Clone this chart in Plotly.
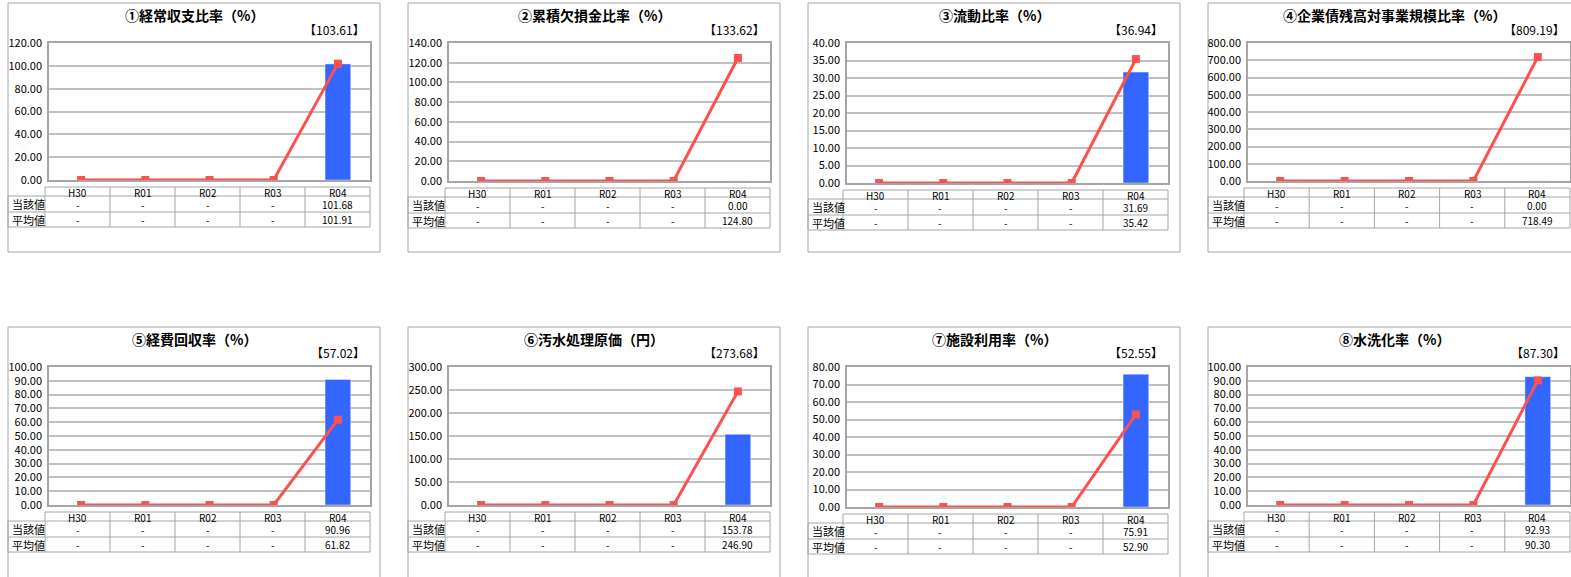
import plotly.graph_objects as go

W, H = 1571, 577

years = ["H30", "R01", "R02", "R03", "R04"]
titles = ["①経常収支比率（%）", "②累積欠損金比率（%）", "③流動比率（%）",
          "④企業債残高対事業規模比率（%）", "⑤経費回収率（%）", "⑥汚水処理原価（円）",
          "⑦施設利用率（%）", "⑧水洗化率（%）"]
brackets = ["【103.61】", "【133.62】", "【36.94】", "【809.19】",
            "【57.02】", "【273.68】", "【52.55】", "【87.30】"]
current = [
    [None, None, None, None, 101.68],
    [None, None, None, None, 0.00],
    [None, None, None, None, 31.69],
    [None, None, None, None, 0.00],
    [None, None, None, None, 90.96],
    [None, None, None, None, 153.78],
    [None, None, None, None, 75.91],
    [None, None, None, None, 92.93],
]
average = [
    [None, None, None, None, 101.91],
    [None, None, None, None, 124.80],
    [None, None, None, None, 35.42],
    [None, None, None, None, 718.49],
    [None, None, None, None, 61.82],
    [None, None, None, None, 246.90],
    [None, None, None, None, 52.90],
    [None, None, None, None, 90.30],
]
y_max = [120, 140, 40, 800, 100, 300, 80, 100]
y_step = [20, 20, 5, 100, 10, 50, 10, 10]
row_labels = ["当該値", "平均値"]

# layout geometry (pixels)
box_left = [8, 408, 808, 1208, 8, 408, 808, 1208]
box_top = [3, 3, 3, 3, 327, 327, 327, 327]
box_bottom = [252, 252, 252, 252, 600, 600, 600, 600]
plot_x = [(49, 370), (449, 770), (847, 1168), (1248, 1570),
          (49, 370), (449, 770), (847, 1168), (1248, 1570)]
plot_y = [(43, 180), (43, 181), (43, 183), (43, 181),
          (367, 505), (367, 505), (367, 507), (367, 505)]

BAR = "#3366FF"
LINE = "#FF5050"
GRID = "#c0c0c0"
BORDER = "#a6a6a6"
FONT = "Noto Sans CJK JP"

def px(x):
    return x / W

def py(y):
    return 1 - y / H

fig = go.Figure()
shapes = []
annotations = []

for i in range(8):
    ax = "" if i == 0 else str(i + 1)
    x0, x1 = plot_x[i]
    y0, y1 = plot_y[i]
    bl = box_left[i]
    # bar (当該値)
    fig.add_trace(go.Bar(x=years, y=current[i], marker_color=BAR, width=0.4,
                         xaxis="x" + ax, yaxis="y" + ax, showlegend=False))
    # line (平均値)
    line_vals = [v if v is not None else 0 for v in average[i]]
    fig.add_trace(go.Scatter(x=years, y=line_vals, mode="lines+markers",
                             line=dict(color=LINE, width=3),
                             marker=dict(symbol="square", size=8, color=LINE),
                             xaxis="x" + ax, yaxis="y" + ax, showlegend=False))
    fig.update_layout(**{
        "xaxis" + ax: dict(domain=[px(x0), px(x1)], anchor="y" + ax, type="category",
                           range=[-0.5, 4.5], showticklabels=False, showgrid=False,
                           zeroline=False, showline=True, mirror=True, automargin=False,
                           linecolor=BORDER, linewidth=1.5, ticks=""),
        "yaxis" + ax: dict(domain=[py(y1), py(y0)], anchor="x" + ax,
                           range=[0, y_max[i]], dtick=y_step[i], tick0=0,
                           tickformat=".2f", showgrid=True, gridcolor=GRID,
                           gridwidth=1.5, zeroline=False, showline=True, mirror=True,
                           linecolor=BORDER, linewidth=1.5, ticks="", automargin=False,
                           ticklabelstandoff=3,
                           tickfont=dict(family=FONT, size=11, color="#000000")),
    })
    # outer box
    shapes.append(dict(type="rect", xref="paper", yref="paper",
                       x0=px(bl), x1=px(bl + 372), y0=py(box_bottom[i]), y1=py(box_top[i]),
                       line=dict(color=BORDER, width=1), fillcolor="rgba(0,0,0,0)",
                       layer="below"))
    # title
    cx = bl + 186
    annotations.append(dict(text="<b>" + titles[i] + "</b>", x=px(cx), y=py(box_top[i] + 12),
                            xref="paper", yref="paper", showarrow=False,
                            xanchor="center", yanchor="middle",
                            font=dict(family=FONT, size=14, color="#000000")))
    annotations.append(dict(text=brackets[i], x=px(x1 - 3), y=py(box_top[i] + 26),
                            xref="paper", yref="paper", showarrow=False,
                            xanchor="right", yanchor="middle",
                            font=dict(family=FONT, size=12, color="#000000")))
    # data table
    t0 = y1 + 7
    rows = [t0, t0 + 9, t0 + 25, t0 + 40]
    cl = x0 - 4
    cw = (x1 - cl) / 5
    cols = [cl + k * cw for k in range(6)]
    # horizontal lines
    shapes.append(dict(type="line", xref="paper", yref="paper", x0=px(cl), x1=px(x1),
                       y0=py(rows[0]), y1=py(rows[0]), line=dict(color=BORDER, width=1)))
    for r in rows[1:]:
        shapes.append(dict(type="line", xref="paper", yref="paper", x0=px(bl), x1=px(x1),
                           y0=py(r), y1=py(r), line=dict(color=BORDER, width=1)))
    # vertical lines
    for c in cols:
        shapes.append(dict(type="line", xref="paper", yref="paper", x0=px(c), x1=px(c),
                           y0=py(rows[0]), y1=py(rows[3]), line=dict(color=BORDER, width=1)))
    shapes.append(dict(type="line", xref="paper", yref="paper", x0=px(bl), x1=px(bl),
                       y0=py(rows[1]), y1=py(rows[3]), line=dict(color=BORDER, width=1)))
    for k, yr in enumerate(years):
        annotations.append(dict(text=yr, x=px((cols[k] + cols[k + 1]) / 2),
                                y=py((rows[0] + rows[1]) / 2 + 0.5), xref="paper", yref="paper",
                                showarrow=False, xanchor="center", yanchor="middle",
                                font=dict(family=FONT, size=10, color="#000000")))
    for r, series in enumerate([current[i], average[i]]):
        ymid = (rows[r + 1] + rows[r + 2]) / 2
        annotations.append(dict(text=row_labels[r], x=px(bl + 2), y=py(ymid),
                                xref="paper", yref="paper", showarrow=False,
                                xanchor="left", yanchor="middle",
                                font=dict(family=FONT, size=11, color="#000000")))
        for k, v in enumerate(series):
            txt = "-" if v is None else f"{v:.2f}"
            annotations.append(dict(text=txt, x=px((cols[k] + cols[k + 1]) / 2), y=py(ymid),
                                    xref="paper", yref="paper", showarrow=False,
                                    xanchor="center", yanchor="middle",
                                    font=dict(family=FONT, size=10, color="#000000")))

fig.update_layout(width=W, height=H,
                  margin=dict(l=0, r=0, t=0, b=0, pad=0, autoexpand=False),
                  paper_bgcolor="white", plot_bgcolor="white",
                  shapes=shapes, annotations=annotations, barmode="overlay")

fig.write_html("out.html",
               post_script="document.body.style.margin='0px';document.body.style.overflow='hidden';")
